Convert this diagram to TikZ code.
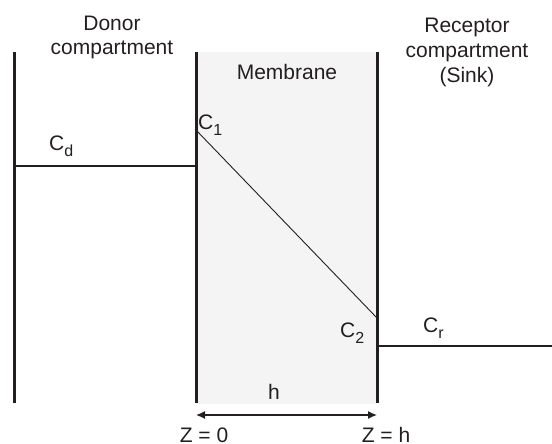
\documentclass[tikz,border=0pt]{standalone}
\usepackage{fontspec}
\setmainfont{Liberation Sans}
\usetikzlibrary{arrows.meta}
\definecolor{ink}{HTML}{231F20}
\definecolor{memfill}{HTML}{F4F4F4}
\newcommand{\sbx}[1]{\raisebox{-0.3em}{\fontsize{16}{16}\selectfont #1}}
\tikzset{
  lbl/.style={text=ink, font=\fontsize{21}{24}\selectfont, inner sep=0pt, align=center},
  wall/.style={draw=ink, line width=3pt},
  level/.style={draw=ink, line width=2.4pt},
  grad/.style={draw=ink, line width=0.9pt},
  dim/.style={draw=ink, line width=1.3pt, {Latex[length=9pt,width=8pt]}-{Latex[length=9pt,width=8pt]}}
}
\begin{document}
\begin{tikzpicture}[x=1pt,y=-1pt]
\useasboundingbox (0,0) rectangle (552,444);
% membrane fill
\fill[memfill] (196,52) rectangle (377,404);
% coordinates
\coordinate (d0) at (14,52);
\coordinate (d1) at (14,403);
\coordinate (m0) at (196,52);
\coordinate (m1) at (196,403);
\coordinate (n0) at (377,52);
\coordinate (n1) at (377,403);
\coordinate (cdL) at (14,166);
\coordinate (cdR) at (196,166);
\coordinate (c1) at (196,130);
\coordinate (c2) at (377,318);
\coordinate (crL) at (377,346);
\coordinate (crR) at (552,346);
\coordinate (zL) at (196,415);
\coordinate (zR) at (377,415);
% walls
\draw[wall] (d0) -- (d1);
\draw[wall] (m0) -- (m1);
\draw[wall] (n0) -- (n1);
% concentration levels
\draw[level] (cdL) -- (cdR);
\draw[grad] (c1) -- (c2);
\draw[level] (crL) -- (crR);
% dimension
\draw[dim] (zL) -- (zR);
% labels
\node[lbl, anchor=base] (donor) at (112,55) {Donor\\compartment};
\node[lbl, anchor=base, font=\fontsize{21}{25.5}\selectfont] (recep) at (467,83) {Receptor\\compartment\\(Sink)};
\node[lbl, anchor=base] (memb) at (287,80) {Membrane};
\node[lbl, anchor=base west] (cd) at (49,150) {C\sbx{d}};
\node[lbl, anchor=base west] (cone) at (198,129) {C\sbx{1}};
\node[lbl, anchor=base west] (ctwo) at (340,337) {C\sbx{2}};
\node[lbl, anchor=base west] (cr) at (423,332) {C\sbx{r}};
\node[lbl, anchor=base] (h) at (274,399) {h};
\node[lbl, anchor=base] (z0) at (204,442) {Z = 0};
\node[lbl, anchor=base] (zh) at (386,442) {Z = h};
\end{tikzpicture}
\end{document}
